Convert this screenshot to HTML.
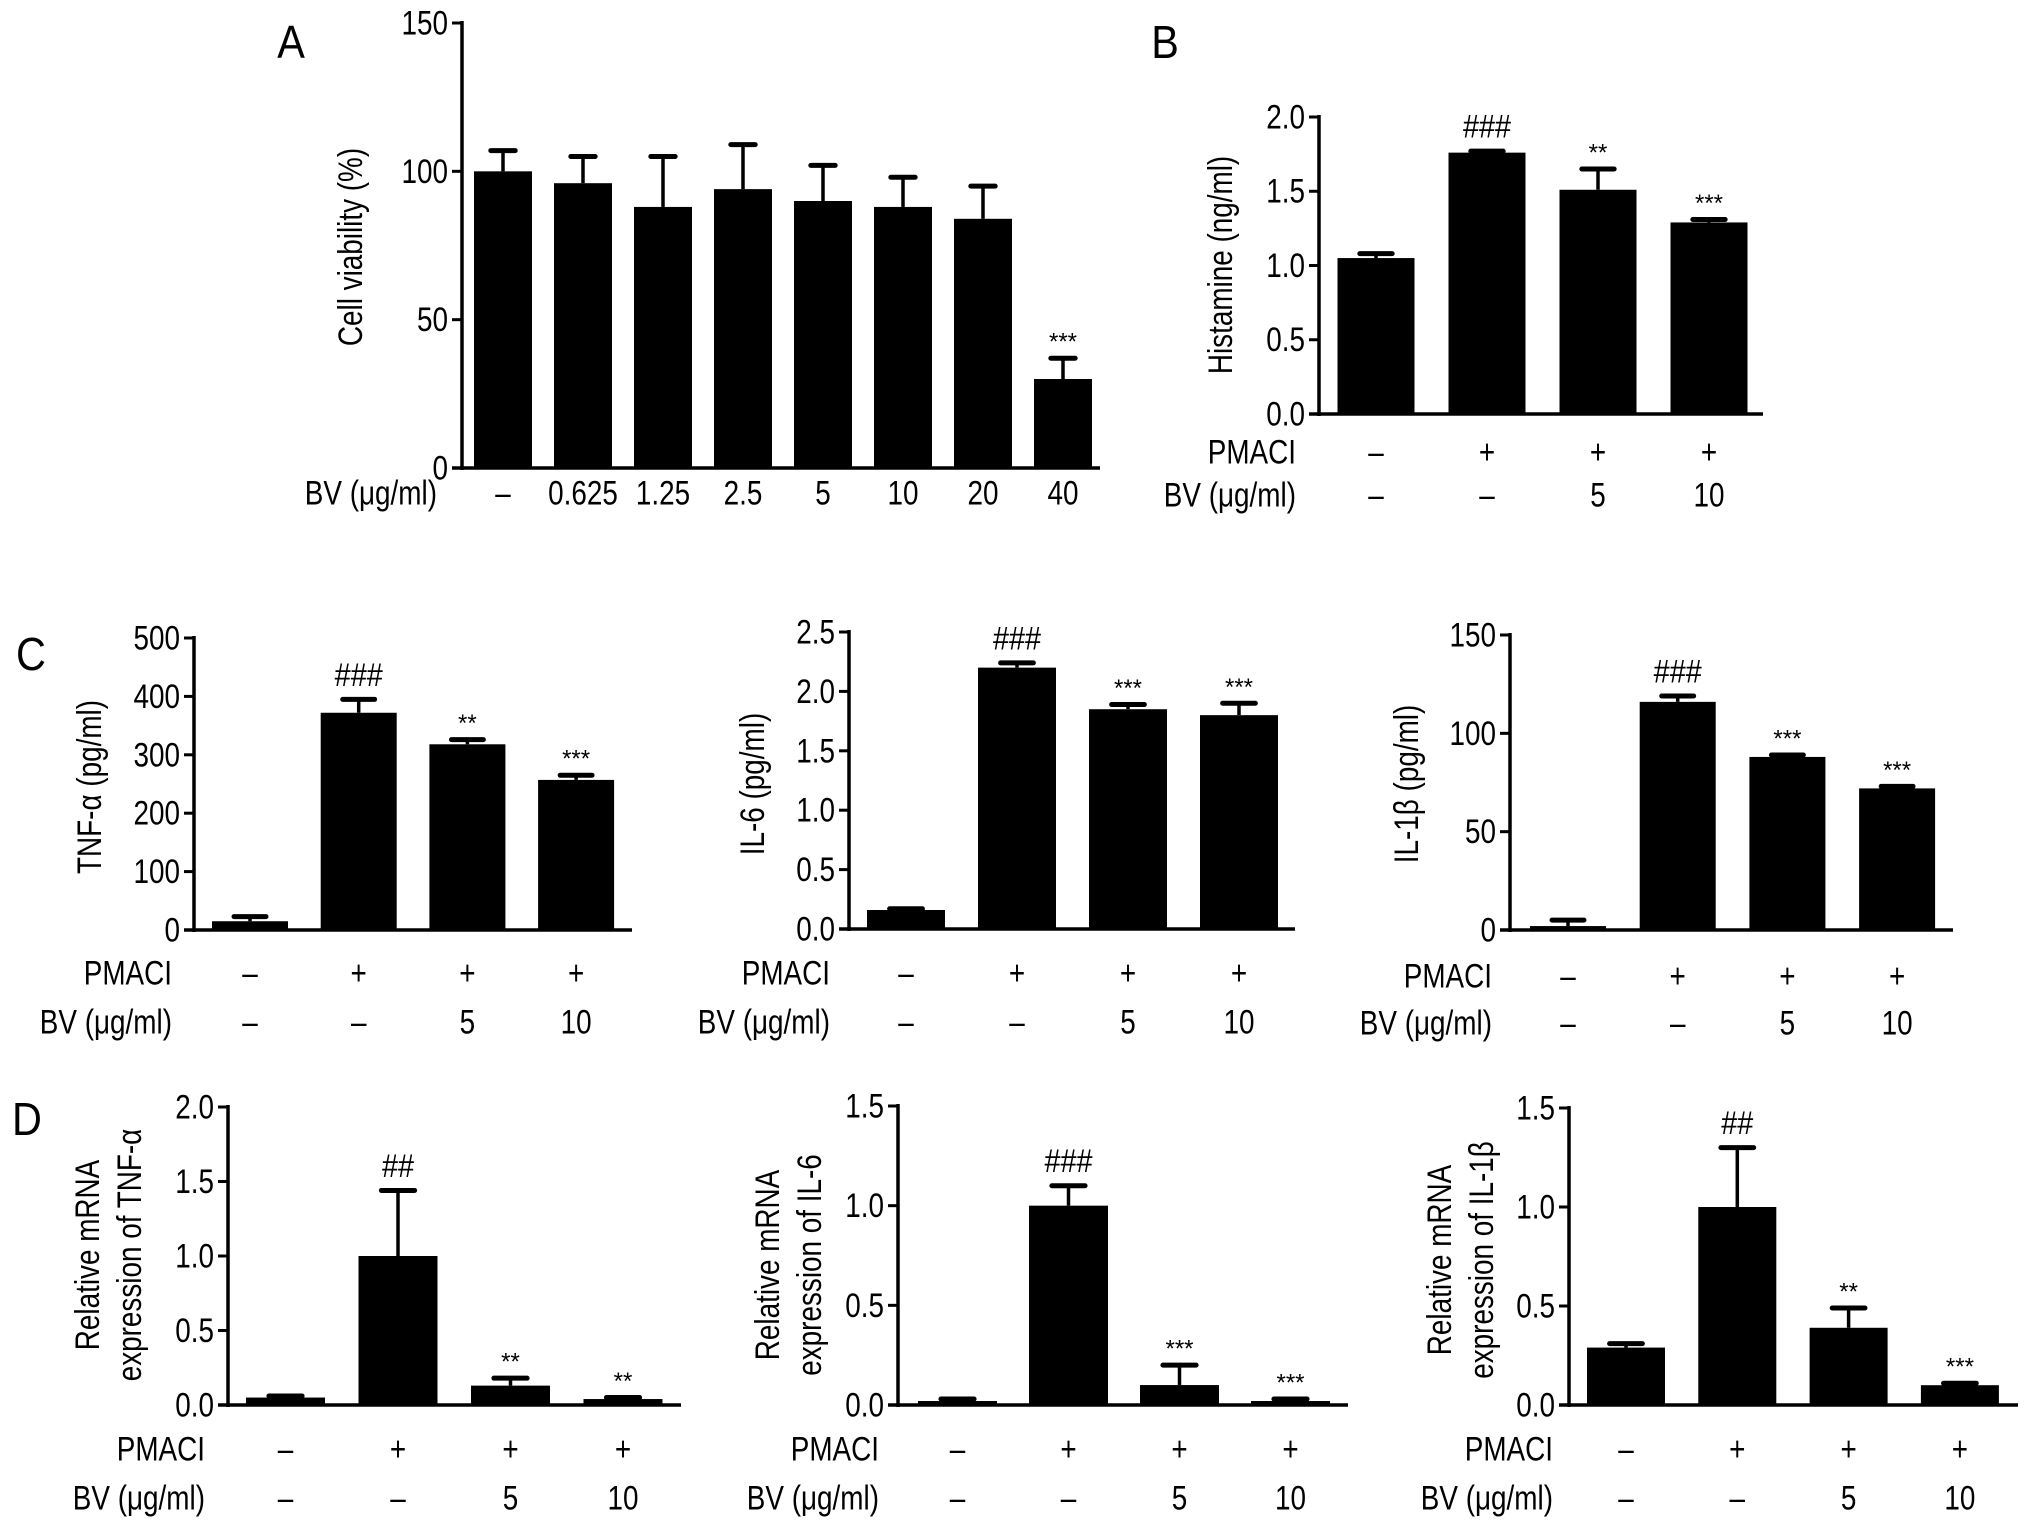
<!DOCTYPE html>
<html><head><meta charset="utf-8"><style>
html,body{margin:0;padding:0;background:#fff;}
svg{display:block;font-family:"Liberation Sans",Arial,sans-serif;}
</style></head><body>
<svg id="fig" width="2032" height="1528" viewBox="0 0 2032 1528" xmlns="http://www.w3.org/2000/svg"></svg>
<script>
// ---- data ----
const aCategories=["–","0.625","1.25","2.5","5","10","20","40"];
const aValues=[100,96,88,94,90,88,84,30];
const aErrors=[7,9,17,15,12,10,11,7];
const aMarks=["","","","","","","","***"];
const aTicks=[0,50,100,150];

const bValues=[1.05,1.76,1.51,1.29];
const bErrors=[0.03,0.01,0.14,0.02];
const bMarks=["","###","**","***"];
const bTicks=[0.0,0.5,1.0,1.5,2.0];

const c1Values=[15,372,318,257];
const c1Errors=[8,23,8,8];
const c1Marks=["","###","**","***"];
const c1Ticks=[0,100,200,300,400,500];

const c2Values=[0.16,2.2,1.85,1.80];
const c2Errors=[0.01,0.04,0.04,0.10];
const c2Marks=["","###","***","***"];
const c2Ticks=[0.0,0.5,1.0,1.5,2.0,2.5];

const c3Values=[2,116,88,72];
const c3Errors=[3,3,1,1];
const c3Marks=["","###","***","***"];
const c3Ticks=[0,50,100,150];

const d1Values=[0.05,1.0,0.13,0.04];
const d1Errors=[0.01,0.44,0.05,0.01];
const d1Marks=["","##","**","**"];
const d1Ticks=[0.0,0.5,1.0,1.5,2.0];

const d2Values=[0.02,1.0,0.10,0.02];
const d2Errors=[0.01,0.10,0.10,0.01];
const d2Marks=["","###","***","***"];
const d2Ticks=[0.0,0.5,1.0,1.5];

const d3Values=[0.29,1.0,0.39,0.10];
const d3Errors=[0.02,0.30,0.10,0.01];
const d3Marks=["","##","**","***"];
const d3Ticks=[0.0,0.5,1.0,1.5];

const pmaciRow=["–","+","+","+"];
const bvRow=["–","–","5","10"];

const NS="http://www.w3.org/2000/svg";
const svg=document.getElementById('fig');
const FS=34, SX=0.82;
function mk(tag,attrs,parent){const e=document.createElementNS(NS,tag);for(const k in attrs)e.setAttribute(k,attrs[k]);(parent||svg).appendChild(e);return e;}
function txt(s,x,y,size,anchor,parent,sx){const t=mk('text',{x:0,y:0,'font-size':size,'text-anchor':anchor||'middle','dominant-baseline':'central',fill:'#000',transform:`translate(${x},${y}) scale(${sx||SX},1)`},parent);t.textContent=s;return t;}

function panel(p){
  const g=mk('g',{});
  
  
  const ymax=p.ticks[p.ticks.length-1];
  const y=v=>p.zero-(v/ymax)*(p.zero-p.top);
  const x=i=>p.c0+i*p.step;
  const ya=mk('line',{x1:p.ax,y1:p.top-2,x2:p.ax,y2:p.zero+2,stroke:'#000','stroke-width':3.5},g);
  
  
  const xa=mk('line',{x1:p.ax-10,y1:p.zero,x2:p.axEnd,y2:p.zero,stroke:'#000','stroke-width':3.5},g);
  
  
  p.ticks.forEach(t=>{
    mk('line',{x1:p.ax-10,y1:y(t),x2:p.ax,y2:y(t),stroke:'#000','stroke-width':3},g);
    const l=txt(p.fmt(t),p.ax-14,y(t),FS,'end',g);
    
    
  });
  p.values.forEach((v,i)=>{
    const cx=x(i);
    const b=mk('rect',{x:cx-p.bw/2,y:y(v),width:p.bw,height:p.zero-y(v),fill:'#000'},g);
    
    
    const e=p.errors[i];
    const cw=p.bw*0.42;
    mk('line',{x1:cx,y1:y(v),x2:cx,y2:y(v+e),stroke:'#000','stroke-width':3.5},g);
    const cap=mk('line',{x1:cx-cw/2,y1:y(v+e),x2:cx+cw/2,y2:y(v+e),stroke:'#000','stroke-width':5,'stroke-linecap':'round'},g);
    
    
    const m=p.marks[i];
    if(m){
      const isHash=m[0]==='#';
      const a=txt(m,cx,y(v+e)-(isHash?24:16),isHash?32:24,'middle',g,isHash?0.9:1);
      
      
    }
  });
  const tg=mk('text',{'font-size':FS,'text-anchor':'middle',fill:'#000',transform:`translate(${p.tx},${p.ty}) rotate(-90) scale(${SX},1)`},g);
  
  
  p.title.forEach((line,k)=>{const ts=mk('tspan',{x:0,y:k*42-(p.title.length-1)*21+12},tg);ts.textContent=line;});
  if(p.cats){
    p.cats.forEach((c,i)=>{const l=txt(c,x(i),p.row1,FS,'middle',g);});
    const bl=txt('BV (μg/ml)',p.labRight,p.row1,FS,'end',g);
    
    
  } else {
    const pl=txt('PMACI',p.labRight,p.row1,FS,'end',g);
    
    
    const bl=txt('BV (μg/ml)',p.labRight,p.row2,FS,'end',g);
    
    
    pmaciRow.forEach((c,i)=>{const l=txt(c,x(i),p.row1,FS,'middle',g);});
    bvRow.forEach((c,i)=>{const l=txt(c,x(i),p.row2,FS,'middle',g);});
  }
}
const f0=t=>String(t), f1=t=>t.toFixed(1);

panel({name:'panel-a',values:aValues,errors:aErrors,marks:aMarks,ticks:aTicks,fmt:f0,cats:aCategories,
  ax:462,axEnd:1100,top:23,zero:468,c0:503,step:80,bw:58,title:['Cell viability (%)'],tx:350,ty:247,row1:493,labRight:437});
panel({name:'panel-b',values:bValues,errors:bErrors,marks:bMarks,ticks:bTicks,fmt:f1,
  ax:1319,axEnd:1763,top:117,zero:414,c0:1376,step:111,bw:77,title:['Histamine (ng/ml)'],tx:1220,ty:265,row1:452,row2:495,labRight:1296});
panel({name:'panel-c-tnf',values:c1Values,errors:c1Errors,marks:c1Marks,ticks:c1Ticks,fmt:f0,
  ax:194,axEnd:632,top:638,zero:930,c0:250,step:108.7,bw:76,title:['TNF-α (pg/ml)'],tx:89,ty:787,row1:973,row2:1022,labRight:172});
panel({name:'panel-c-il6',values:c2Values,errors:c2Errors,marks:c2Marks,ticks:c2Ticks,fmt:f1,
  ax:849,axEnd:1295,top:632,zero:929,c0:906,step:111,bw:78,title:['IL-6 (pg/ml)'],tx:752,ty:784,row1:973,row2:1022,labRight:830});
panel({name:'panel-c-il1b',values:c3Values,errors:c3Errors,marks:c3Marks,ticks:c3Ticks,fmt:f0,
  ax:1510,axEnd:1953,top:635,zero:930,c0:1568,step:109.7,bw:76,title:['IL-1β (pg/ml)'],tx:1406,ty:784,row1:976,row2:1023,labRight:1492});
panel({name:'panel-d-tnf',values:d1Values,errors:d1Errors,marks:d1Marks,ticks:d1Ticks,fmt:f1,
  ax:228,axEnd:681,top:1107,zero:1405,c0:285.5,step:112.5,bw:79,title:['Relative mRNA','expression of TNF-α'],tx:108,ty:1255,row1:1449,row2:1498,labRight:205});
panel({name:'panel-d-il6',values:d2Values,errors:d2Errors,marks:d2Marks,ticks:d2Ticks,fmt:f1,
  ax:898,axEnd:1348,top:1106,zero:1405,c0:957.5,step:111,bw:79,title:['Relative mRNA','expression of IL-6'],tx:788,ty:1265,row1:1449,row2:1498,labRight:879});
panel({name:'panel-d-il1b',values:d3Values,errors:d3Errors,marks:d3Marks,ticks:d3Ticks,fmt:f1,
  ax:1569,axEnd:2018,top:1108,zero:1405,c0:1626,step:111.3,bw:78,title:['Relative mRNA','expression of IL-1β'],tx:1460,ty:1260,row1:1449,row2:1498,labRight:1553});

[['A',291,43],['B',1165,43],['C',31,655],['D',27,1120]].forEach(l=>{
  const t=txt(l[0],l[1],l[2],46,'middle',svg,0.9);
  
  
});
</script>
</body></html>
